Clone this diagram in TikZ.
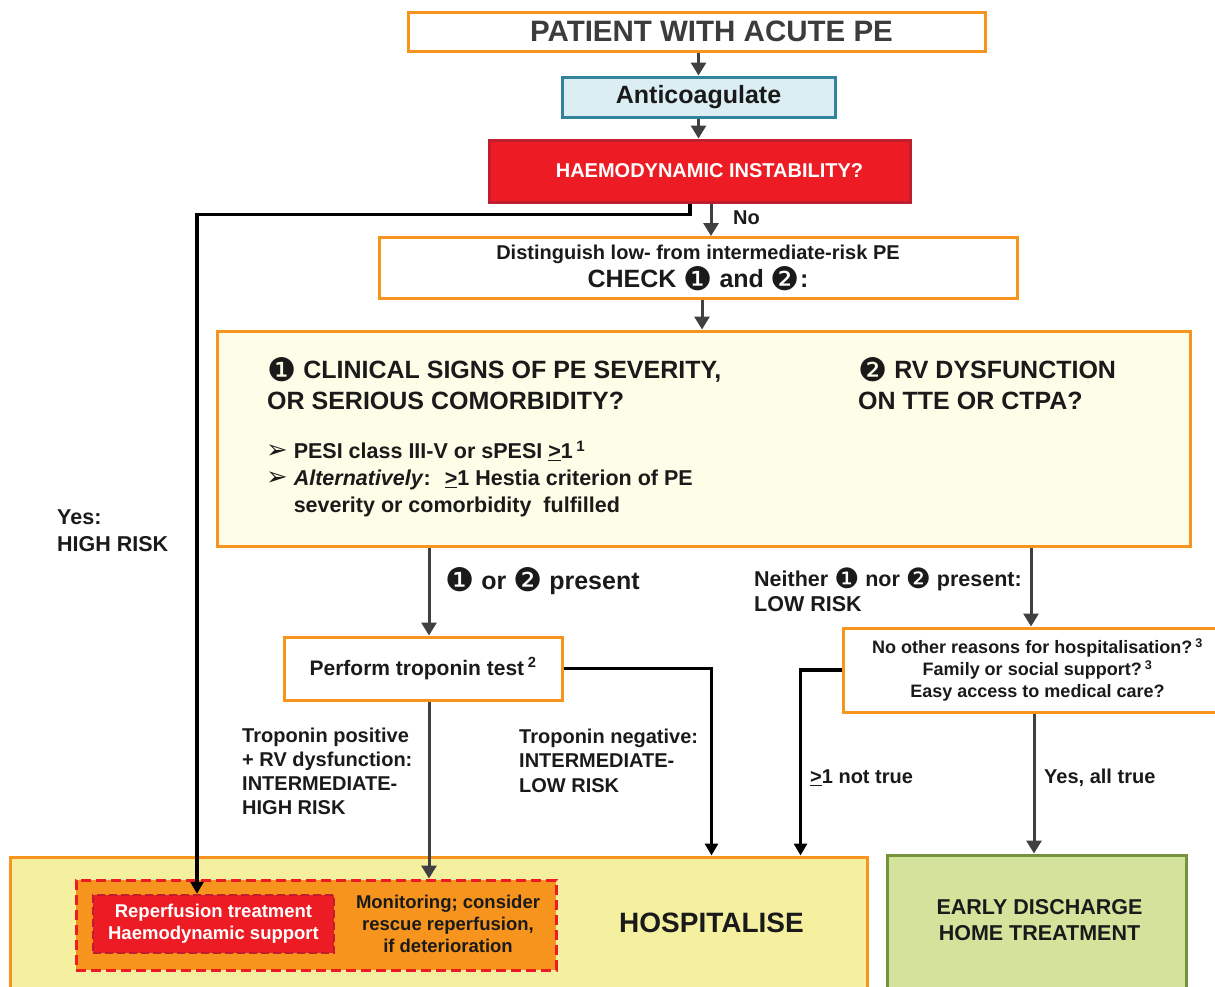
\documentclass[tikz,border=0pt]{standalone}
\usepackage{fontspec}
\setmainfont{Liberation Sans}
\newfontfamily\dingfont{DejaVu Sans}
\usetikzlibrary{positioning,
                arrows.meta}

\definecolor{peorange}{HTML}{F7941D}
\definecolor{pegray}{HTML}{404040}
\definecolor{petext}{HTML}{1A1A1A}
\definecolor{petitle}{HTML}{3C3C3C}
\definecolor{pered}{HTML}{ED1C24}
\definecolor{pedarkred}{HTML}{BE1E2D}
\definecolor{peteal}{HTML}{31849B}
\definecolor{peblue}{HTML}{DAEEF3}
\definecolor{pecream}{HTML}{FDFDE8}
\definecolor{peyellow}{HTML}{F5F0A0}
\definecolor{pegreen}{HTML}{76923C}
\definecolor{pelightgreen}{HTML}{D3E39C}

\newcommand{\setfs}[2]{\fontsize{#1}{#2}\selectfont}
\newcommand{\numone}{\raisebox{-0.1em}{\scalebox{1.3}{\dingfont\mdseries\char"2776}}}
\newcommand{\numtwo}{\raisebox{-0.1em}{\scalebox{1.3}{\dingfont\mdseries\char"2777}}}
\newcommand{\bulletarrow}{\scalebox{1.2}{\dingfont\mdseries\char"27A2}}
\newcommand{\geqone}{\underline{>}1}

\begin{document}
\begin{tikzpicture}[x=1pt, y=-1pt,
    orangebox/.style={draw=peorange, line width=3pt, fill=white, align=center,
                      inner sep=0pt, text=petext, font=\bfseries},
    note/.style={anchor=west, align=left, inner sep=0pt, text=petext},
    grayarrow/.style={draw=pegray, line width=3pt, -{Triangle[width=15pt,length=13pt]}},
    blackarrow/.style={draw=black, line width=3.5pt, -{Triangle[width=13pt,length=12pt]}}]
    \useasboundingbox (0,0) rectangle (1215,986);

    % Start
    \node[orangebox, minimum width=577pt, minimum height=39pt, text=petitle,
          font=\bfseries\setfs{29.5}{34}] (patient) at (696.5,31.5)
          {\hspace*{30pt}PATIENT WITH ACUTE PE};
    \node[draw=peteal, fill=peblue, line width=3pt, minimum width=273pt,
          minimum height=40pt, text=petext, font=\bfseries\setfs{25}{30}] (anti) at (698.5,97)
          {Anticoagulate};
    \node[draw=pedarkred, fill=pered, line width=3pt, minimum width=421pt,
          minimum height=62pt, text=white, font=\bfseries\setfs{20}{24}] (instab) at (699.5,171)
          {\hspace*{20pt}HAEMODYNAMIC INSTABILITY?};
    \node[orangebox, minimum width=638pt, minimum height=61pt] (dist) at (698,268)
          {{\setfs{20}{24}Distinguish low- from intermediate-risk PE}\\[1pt]
           {\setfs{25}{28}CHECK \numone{} and \numtwo:}};

    % Kriterien 1 und 2
    \node[orangebox, fill=pecream, minimum width=973pt, minimum height=215pt] (check) at (703.5,438.5) {};
    \node[note, font=\bfseries\setfs{25}{31}] (signs) at (267,383.5)
          {\numone{} CLINICAL SIGNS OF PE SEVERITY,\\OR SERIOUS COMORBIDITY?};
    \node[note, font=\bfseries\setfs{25}{31}] (rvdys) at (858,383.5)
          {\numtwo{} RV DYSFUNCTION\\ON TTE OR CTPA?};
    \node[note, font=\bfseries\setfs{21.5}{27}] (pesi) at (266,479)
          {\bulletarrow\ PESI class III-V or sPESI \geqone\,\textsuperscript{1}\\
           \bulletarrow\ \textit{Alternatively}:~ \geqone{} Hestia criterion of PE\\
           \phantom{\bulletarrow\ }severity or comorbidity~ fulfilled};

    % Zweige
    \node[orangebox, minimum width=278pt, minimum height=63pt,
          font=\bfseries\setfs{21}{25}] (trop) at (423,668.5)
          {Perform troponin test\,\textsuperscript{2}};
    \node[orangebox, minimum width=389pt, minimum height=84pt,
          font=\bfseries\setfs{18}{22}] (other) at (1037.5,670)
          {No other reasons for hospitalisation?\,\textsuperscript{3}\\
           Family or social support?\,\textsuperscript{3}\\
           Easy access to medical care?};

    % Ergebnis
    \node[draw=peorange, fill=peyellow, line width=3pt, minimum width=857pt,
          minimum height=160pt] (hosp) at (438.5,937) {};
    \node[text=petext, font=\bfseries\setfs{28}{34}] (hosplabel) at (711.5,923) {HOSPITALISE};
    \node[draw=pered, fill=peorange, line width=3pt, dash pattern=on 10pt off 5pt,
          minimum width=480pt, minimum height=90pt] (careframe) at (316,925) {};
    \node[draw=pedarkred, fill=pered, line width=2.5pt, dash pattern=on 8pt off 4pt,
          minimum width=241pt, minimum height=58pt, align=center, text=white,
          font=\bfseries\setfs{18.5}{22}] (repf) at (213.5,924)
          {Reperfusion treatment\\Haemodynamic support};
    \node[align=center, text=petext, font=\bfseries\setfs{18.5}{22}] (monit) at (448,924)
          {Monitoring; consider\\rescue reperfusion,\\if deterioration};
    \node[draw=pegreen, fill=pelightgreen, line width=3pt, minimum width=299pt,
          minimum height=150pt] (home) at (1036.5,930) {};
    \node[align=center, text=petext, font=\bfseries\setfs{21.5}{26}] (homelabel) at (1039.5,920)
          {EARLY DISCHARGE\\HOME TREATMENT};

    % Beschriftungen
    \node[note, font=\bfseries\setfs{20}{24}] (nolabel) at (733,218) {No};
    \node[note, font=\bfseries\setfs{21.5}{27}] (highrisk) at (57,530.5) {Yes:\\HIGH RISK};
    \node[note, font=\bfseries\setfs{25}{30}] (present) at (445,581) {\numone{} or \numtwo{} present};
    \node[note, font=\bfseries\setfs{21.5}{25}] (lowrisk) at (754,589.5)
          {Neither \numone{} nor \numtwo{} present:\\LOW RISK};
    \node[note, font=\bfseries\setfs{20}{24}] (tpos) at (242,771)
          {Troponin positive\\+ RV dysfunction:\\INTERMEDIATE-\\HIGH RISK};
    \node[note, font=\bfseries\setfs{20}{24.5}] (tneg) at (519,760.5)
          {Troponin negative:\\INTERMEDIATE-\\LOW RISK};
    \node[note, font=\bfseries\setfs{20}{24}] (nottrue) at (810,778) {\geqone{} not true};
    \node[note, font=\bfseries\setfs{20}{24}] (alltrue) at (1044,778) {Yes, all true};

    % Pfeile
    \draw[grayarrow] (anti.north |- patient.south) -- (anti.north);
    \draw[grayarrow] (anti.south) -- (anti.south |- instab.north);
    \draw[grayarrow] ([xshift=11.5pt]instab.south) -- ([xshift=11.5pt]instab.south |- dist.north);
    \draw[grayarrow] ([xshift=4pt]dist.south) -- ([xshift=4pt]dist.south |- check.north);
    \draw[grayarrow] ([xshift=6pt]trop.north |- check.south) -- ([xshift=6pt]trop.north);
    \draw[grayarrow] ([xshift=-6.5pt]other.north |- check.south) -- ([xshift=-6.5pt]other.north);
    \draw[grayarrow] ([xshift=6pt]trop.south) -- ([xshift=6pt]trop.south |- careframe.north);
    \draw[grayarrow] ([xshift=-3.5pt]other.south) -- ([xshift=-3.5pt]other.south |- home.north);
    \draw[blackarrow] ([xshift=-9.5pt]instab.south) -- ++(0,11) -| ([xshift=-16.5pt]repf.north);
    \draw[blackarrow] (trop.east) -| (hosp.north -| hosplabel);
    \draw[blackarrow] (other.west) -| ([xshift=-68pt]hosp.north east);

\end{tikzpicture}
\end{document}
